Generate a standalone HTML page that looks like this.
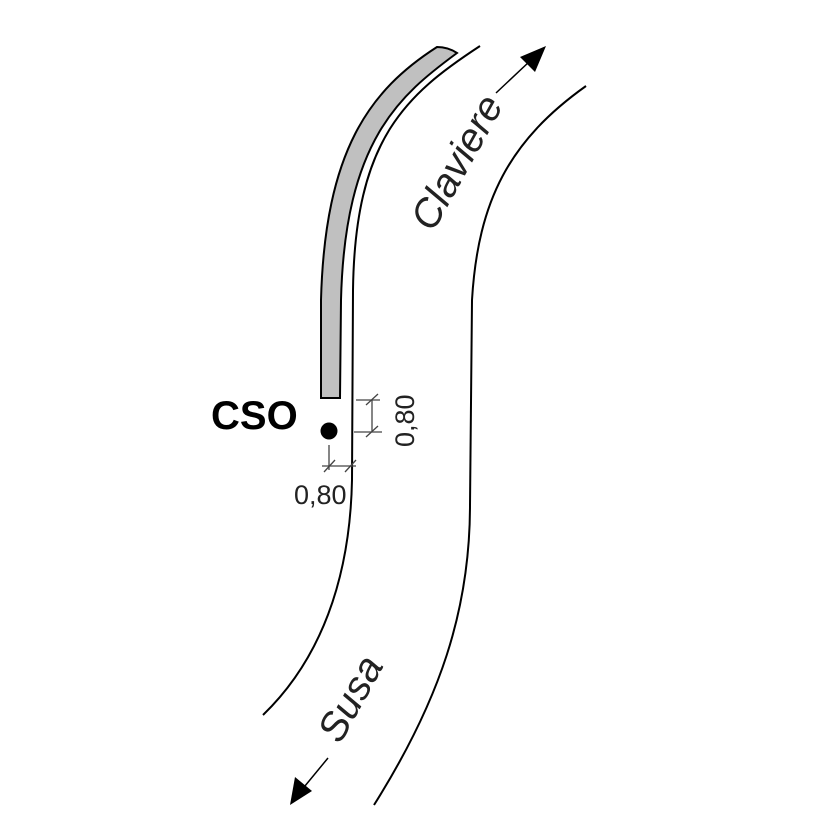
<!DOCTYPE html>
<html><head><style>body{margin:0;background:#fff}</style></head><body>
<svg width="826" height="826" viewBox="0 0 826 826" xmlns="http://www.w3.org/2000/svg" font-family="Liberation Sans, sans-serif">
<rect width="826" height="826" fill="#fff"/>
<path d="M437,47 Q448,47 457,53 C400,95 345,140 341,300 L340,398 L321,398 L321,300 C325,150 370,90 437,47 Z" fill="#c0c0c0" stroke="#000" stroke-width="2"/>
<path d="M480,46 C405,95 355,140 353,290 L352,480 C350,580 320,660 263,715" fill="none" stroke="#000" stroke-width="2"/>
<path d="M586,86 C510,140 478,200 472,300 L470,505 C470,610 440,700 374,805" fill="none" stroke="#000" stroke-width="2"/>
<text x="211" y="429" font-size="40" font-weight="bold">CSO</text>
<circle cx="329" cy="431" r="8.5" fill="#000"/>
<g stroke="#444" stroke-width="1.3">
<line x1="356" y1="400" x2="380" y2="400"/>
<line x1="354" y1="432" x2="382" y2="432"/>
<line x1="372" y1="400" x2="372" y2="432"/>
<line x1="366" y1="405" x2="378" y2="394"/>
<line x1="366" y1="437" x2="378" y2="426"/>
<line x1="329" y1="445" x2="329" y2="470"/>
<line x1="322" y1="466" x2="356" y2="466"/>
<line x1="324" y1="472" x2="335" y2="460"/>
<line x1="345" y1="472" x2="356" y2="460"/>
</g>
<text transform="translate(414,447) rotate(-90)" font-size="27" fill="#222">0,80</text>
<text x="294" y="504" font-size="27" fill="#222">0,80</text>
<text transform="translate(433,233) rotate(-61)" font-size="40" font-style="italic" fill="#222">Claviere</text>
<line x1="496" y1="93" x2="530" y2="61" stroke="#000" stroke-width="1.5"/>
<polygon points="546,46 520,57 535,72" fill="#000"/>
<text transform="translate(340,745) rotate(-61)" font-size="40" font-style="italic" fill="#222">Susa</text>
<line x1="328" y1="758" x2="300" y2="792" stroke="#000" stroke-width="1.5"/>
<polygon points="290,805 295,777 312,791" fill="#000"/>
</svg>
</body></html>
